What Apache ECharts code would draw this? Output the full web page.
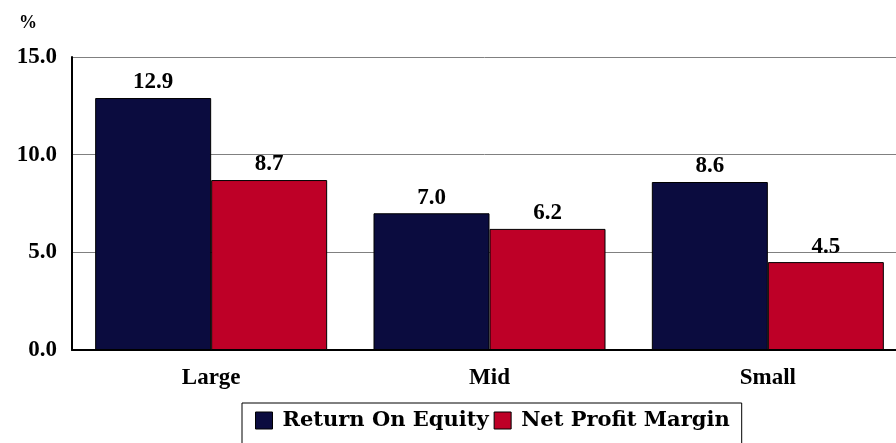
<!DOCTYPE html>
<html><head><meta charset="utf-8">
<script src="https://cdn.jsdelivr.net/npm/echarts@6/dist/echarts.min.js"></script>
<style>html,body{margin:0;padding:0;background:#fff}#c{width:896px;height:443px}</style>
</head><body><div id="c"></div>
<script>
const categories = ['Large', 'Mid', 'Small'];
const roe = [12.9, 7.0, 8.6];
const npm = [8.7, 6.2, 4.5];
const seriesNames = ['Return On Equity', 'Net Profit Margin'];

const font = 'Liberation Serif';
const chart = echarts.init(document.getElementById('c'));
const lbl = {show: true, position: 'top', distance: 4, color: '#000', fontFamily: font, fontWeight: 'bold', fontSize: 23, formatter: p => p.value.toFixed(1)};
chart.setOption({
  animation: false,
  grid: {left: 72, width: 835, top: 57, height: 293, containLabel: false, outerBoundsMode: 'none'},
  title: {text: '%', left: 14, top: 9, textStyle: {fontFamily: font, fontWeight: 'bold', fontSize: 18, color: '#000'}},
  legend: {
    top: 403, left: 242,
    data: seriesNames,
    itemWidth: 17, itemHeight: 17, itemGap: 5,
    padding: [7, 12, 20, 13],
    borderColor: '#000', borderWidth: 1,
    icon: 'rect',
    itemStyle: {borderColor: '#000', borderWidth: 1},
    textStyle: {fontFamily: 'DejaVu Serif', fontWeight: 'bold', fontSize: 21, color: '#000', padding: [6, 0, 0, 5]}
  },
  xAxis: {
    type: 'category', data: categories,
    axisLine: {lineStyle: {color: '#000', width: 2}},
    axisTick: {show: false},
    axisLabel: {fontFamily: font, fontWeight: 'bold', fontSize: 23, color: '#000', margin: 17}
  },
  yAxis: {
    type: 'value', min: 0, max: 15, interval: 5,
    axisLine: {show: true, lineStyle: {color: '#000', width: 2}},
    axisTick: {show: false},
    splitLine: {lineStyle: {color: '#808080', width: 1}},
    axisLabel: {fontFamily: font, fontWeight: 'bold', fontSize: 23, color: '#000', margin: 15, formatter: v => v.toFixed(1)}
  },
  series: [
    {name: seriesNames[0], type: 'bar', data: roe, barWidth: 116, barGap: '0%',
     itemStyle: {color: '#0b0c3f', borderColor: '#000', borderWidth: 1}, label: lbl},
    {name: seriesNames[1], type: 'bar', data: npm, barWidth: 116,
     itemStyle: {color: '#be0027', borderColor: '#000', borderWidth: 1}, label: lbl}
  ]
});
</script></body></html>
